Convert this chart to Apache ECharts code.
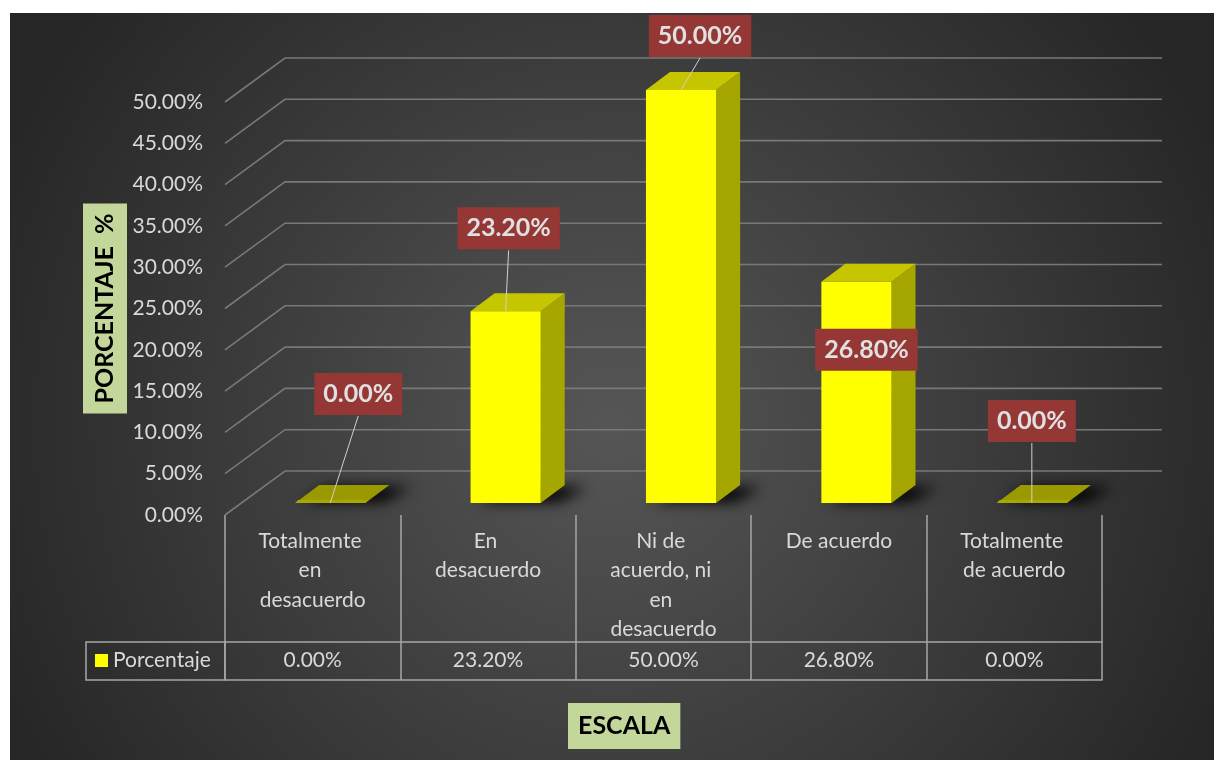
<!DOCTYPE html>
<html><head><meta charset="utf-8">
<script src="https://cdn.jsdelivr.net/npm/echarts@6/dist/echarts.min.js"></script>
<style>
html,body{margin:0;padding:0;background:#fff;width:1214px;height:760px;overflow:hidden}
#c{position:absolute;left:10px;top:13px;width:1204px;height:747px}
</style></head>
<body><div id="c"></div>
<script>
// ---- data ----
const categories = ['Totalmente en desacuerdo', 'En desacuerdo', 'Ni de acuerdo, ni en desacuerdo', 'De acuerdo', 'Totalmente de acuerdo'];
const values = [0, 23.2, 50, 26.8, 0];
const yTicks = [0, 5, 10, 15, 20, 25, 30, 35, 40, 45, 50];
const seriesName = 'Porcentaje';
const yTitle = 'PORCENTAJE  %';
const xTitle = 'ESCALA';
// manual data-label placement (px, relative to bar top front centre)
const labelOffsets = [[28, -109], [3, -83], [19, -54], [10, 68], [0, -82]];

const FONT = 'Lato, "Noto Sans", sans-serif';
const TXT = '#d9d9d9';
const LINE = '#a6a6a6';
const fmt = v => v.toFixed(2) + '%';

const chart = echarts.init(document.getElementById('c'), null, {renderer: 'canvas'});

function renderGrid(params, api) {
  const cs = params.coordSys;
  const y = api.coord([0, api.value(1)])[1];
  return {
    type: 'polyline',
    shape: {points: [[cs.x, y], [cs.x + 60, y - 44], [cs.x + cs.width + 60, y - 44]]},
    style: {stroke: '#787878', lineWidth: 1.6, fill: null},
    silent: true
  };
}

function renderBar(params, api) {
  const i = api.value(0), v = api.value(1);
  const base = api.coord([i, 0]);
  const top = api.coord([i, v]);
  const bw = api.size([1, 0])[0];
  const w = bw * 0.4, shiftX = bw * 0.1, shiftY = -12, dx = 24, dy = -18;
  const cx = base[0] + shiftX;
  const L = cx - w / 2, R = cx + w / 2;
  const yb = base[1] + shiftY, yt = top[1] + shiftY;
  const children = [];
  // soft floor shadow (shape drawn off-canvas, only its blurred shadow is visible)
  const OFF = 3000;
  children.push({
    type: 'polygon',
    shape: {points: [[L + 8 - OFF, yb - 1], [R + 18 - OFF, yb - 1], [R + dx + 22 - OFF, yb + dy + 2], [L + dx + 8 - OFF, yb + dy + 2]]},
    style: {fill: '#000', shadowBlur: 14, shadowColor: 'rgba(0,0,0,1)', shadowOffsetX: OFF, shadowOffsetY: 0},
    silent: true
  });
  if (yb - yt < 1) {
    children.push({type: 'polygon', shape: {points: [[L, yb], [R, yb], [R + dx, yb + dy], [L + dx, yb + dy]]},
      style: {fill: '#9a9a00'}});
    children.push({type: 'polygon', shape: {points: [[L, yb], [R, yb], [R + 3, yb - 3], [L + 3, yb - 3]]},
      style: {fill: '#a8a800'}});
  } else {
    children.push({type: 'polygon', shape: {points: [[R, yt], [R + dx, yt + dy], [R + dx, yb + dy], [R, yb]]},
      style: {fill: '#a6a600'}});
    children.push({type: 'polygon', shape: {points: [[L, yt], [L + dx, yt + dy], [R + dx, yt + dy], [R, yt]]},
      style: {fill: '#c6c600'}});
    children.push({type: 'rect', shape: {x: L, y: yt, width: w, height: yb - yt},
      style: {fill: '#ffff00'}});
  }
  // data label
  const off = labelOffsets[i];
  const lx = cx + off[0], ly = yt + off[1];
  if (off[1] < 0) {
    children.push({type: 'line', shape: {x1: lx, y1: ly + 22, x2: cx, y2: yt},
      style: {stroke: '#d0d0d0', lineWidth: 1}});
  }
  children.push({
    type: 'text',
    x: lx, y: ly,
    style: {
      text: fmt(v), align: 'center', verticalAlign: 'middle',
      font: 'bold 25px ' + FONT, fill: '#e0e0e0',
      backgroundColor: '#953735', padding: [9, 9, 8, 9]
    }
  });
  return {type: 'group', children: children};
}

const option = {
  backgroundColor: {
    type: 'radial', x: 0.5, y: 0.55, r: 0.9,
    colorStops: [{offset: 0, color: '#565656'}, {offset: 1, color: '#262626'}]
  },
  animation: false,
  title: {
    text: xTitle, left: 558, top: 690,
    backgroundColor: '#c4d79b', padding: [10, 10, 10, 10],
    textStyle: {fontFamily: FONT, fontWeight: 'bold', fontSize: 25, lineHeight: 26, color: '#000'}
  },
  legend: {
    data: [seriesName], left: 85, top: 637, padding: 0,
    icon: 'rect', itemWidth: 13, itemHeight: 13, selectedMode: false,
    textStyle: {color: TXT, fontFamily: FONT, fontSize: 21, lineHeight: 21}
  },
  grid: {left: 215, right: 112, top: 89, bottom: 245, containLabel: false},
  xAxis: [
    {
      type: 'category', data: categories, position: 'bottom', offset: 0,
      axisLine: {show: false},
      axisTick: {show: true, length: 165, interval: 0, lineStyle: {color: LINE, width: 1.5}},
      axisLabel: {interval: 0, color: TXT, fontFamily: FONT, fontSize: 21, lineHeight: 29.5,
        width: 120, overflow: 'break', margin: 11},
      splitLine: {show: false}
    },
    {
      type: 'category', data: categories, position: 'bottom', offset: 127,
      axisLine: {show: true, lineStyle: {color: LINE, width: 1.5}},
      axisTick: {show: true, length: 38, interval: 0, lineStyle: {color: LINE, width: 1.5}},
      axisLabel: {interval: 0, color: TXT, fontFamily: FONT, fontSize: 21, lineHeight: 21, margin: 8,
        formatter: (val, idx) => fmt(values[idx])},
      splitLine: {show: false}
    },
    {
      type: 'category', data: categories, position: 'bottom', offset: 165,
      axisLine: {show: true, lineStyle: {color: LINE, width: 1.5}},
      axisTick: {show: false}, axisLabel: {show: false}, splitLine: {show: false}
    }
  ],
  yAxis: {
    type: 'value', min: 0, max: 50, interval: 5,
    axisLine: {show: false}, axisTick: {show: false}, splitLine: {show: false},
    axisLabel: {color: TXT, fontFamily: FONT, fontSize: 21, margin: 22, formatter: fmt},
    name: yTitle, nameLocation: 'middle', nameRotate: 90, nameGap: 98, nameMoveOverlap: false,
    nameTextStyle: {fontFamily: FONT, fontWeight: 'bold', fontSize: 25, lineHeight: 26, color: '#000',
      backgroundColor: '#c4d79b', padding: [9, 10, 9, 10]}
  },
  graphic: [
    {type: 'rect', shape: {x: 76, y: 629, width: 139, height: 38}, style: {fill: null, stroke: LINE, lineWidth: 1.5}, silent: true}
  ],
  series: [
    {
      type: 'custom', name: 'grid', renderItem: renderGrid, z: 1, silent: true,
      data: yTicks.map(v => [0, v]), encode: {x: 0, y: 1}, tooltip: {show: false}
    },
    {
      type: 'custom', name: seriesName, renderItem: renderBar, z: 3,
      itemStyle: {color: '#ffff00'},
      data: values.map((v, i) => [i, v]), encode: {x: 0, y: 1}
    }
  ]
};
chart.setOption(option);
</script>
</body></html>
